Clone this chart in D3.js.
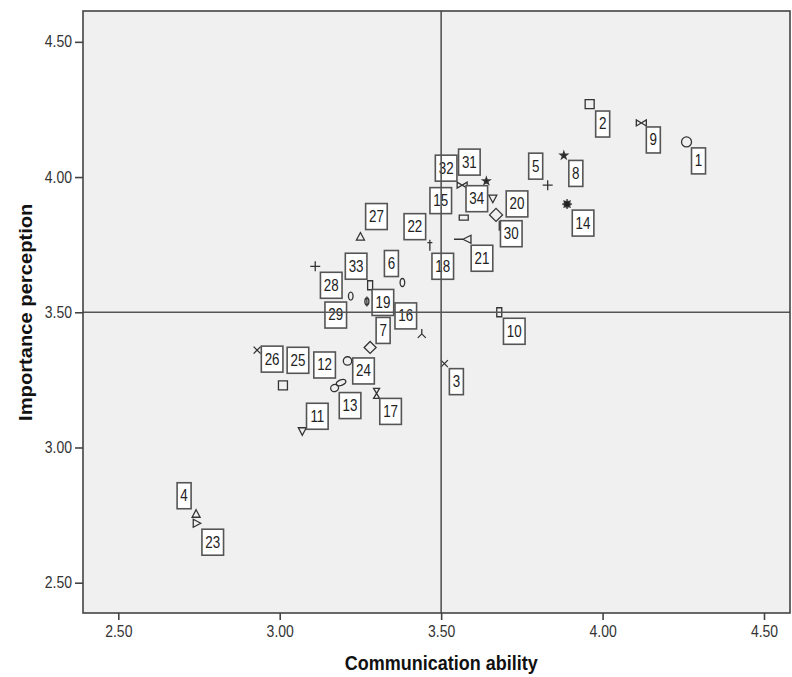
<!DOCTYPE html>
<html>
<head>
<meta charset="utf-8">
<script src="https://cdn.jsdelivr.net/npm/d3@7"></script>
<style>
  body { margin: 0; background: #fff; }
  text { font-family: "Liberation Sans", Arial, sans-serif; }
</style>
</head>
<body>
<div id="scatter"></div>
<script>
// case numbers and their scores
var caseIds = [1, 2, 3, 4, 5, 6, 7, 8, 9, 10, 11, 12, 13, 14, 15, 16, 17,
               18, 19, 20, 21, 22, 23, 24, 25, 26, 27, 28, 29, 30, 31, 32, 33, 34];

var commAbility = [4.26, 3.96, 3.51, 2.741, 3.83, 3.38, 3.28, 3.88, 4.12, 3.68,
                   3.07, 3.17, 3.19, 3.89, 3.57, 3.44, 3.30, 3.505, 3.27, 3.67,
                   3.58, 3.465, 2.743, 3.21, 3.01, 2.93, 3.25, 3.11, 3.22, 3.68,
                   3.64, 3.565, 3.28, 3.66];

var importance = [4.13, 4.27, 3.31, 2.755, 3.97, 3.61, 3.37, 4.08, 4.20, 3.50,
                  3.06, 3.22, 3.24, 3.90, 3.85, 3.42, 3.20, 3.67, 3.54, 3.86,
                  3.77, 3.75, 2.72, 3.32, 3.23, 3.36, 3.78, 3.67, 3.56, 3.82,
                  3.985, 3.97, 3.60, 3.92];

var xTicks = [2.5, 3.0, 3.5, 4.0, 4.5];
var yTicks = [2.5, 3.0, 3.5, 4.0, 4.5];
var refX = 3.5, refY = 3.5;

// marker shape per case (SPSS style)
var caseMarkers = ["circle", "square", "cross", "triUp", "plus", "zero", "diamond", "star",
                   "bowtie", "vRect", "triDown", "oval", "oval2", "sun", "hRect", "tristar",
                   "hourglass", "circle", "phi", "diamondL", "triLeftLine", "dagger", "triRight",
                   "circleS", "square", "cross", "triUp", "plus", "zero", "bar", "star",
                   "bowtie", "vRect", "triDown"];

// label box nudges (px) from each marker
var labelNudge = [[12,19],[13,20],[12,18],[-12,-18],[-12,-19],[-11,-19],[13,-17],[12,18],
                  [12,17],[15,19],[15,-15],[-10,-23],[9,23],[16,19],[-23,-17],[-16,-18],
                  [14,18],[0,0],[16,1],[21,-11],[15,19],[-15,-18],[16,19],[16,10],
                  [15,-25],[15,9],[16,-20],[16,19],[-15,19],[12,8],[-17,-19],[-16,-17],
                  [-14,-19],[-16,0]];

var svgWidth = 792;
var svgHeight = 677;

var svg = d3.select("#scatter")
  .append("svg")
    .attr("width", svgWidth)
    .attr("height", svgHeight);

var plot = { left: 83, right: 790, top: 11, bottom: 613 };

var x = d3.scaleLinear().domain([2.3907, 4.5805]).range([plot.left, plot.right]);
var y = d3.scaleLinear().domain([2.388, 4.614]).range([plot.bottom, plot.top]);

var data = caseIds.map((id, i) => ({
    id: id,
    cx: commAbility[i],
    cy: importance[i],
    marker: caseMarkers[i],
    nudge: labelNudge[i]
}));

// background
svg.append("rect")
    .attr("x", plot.left).attr("y", plot.top)
    .attr("width", plot.right - plot.left).attr("height", plot.bottom - plot.top)
    .attr("fill", "#f0f0f0");

// marker paths
var ell = (rx, ry) => `M${-rx},0a${rx},${ry} 0 1,0 ${2*rx},0a${rx},${ry} 0 1,0 ${-2*rx},0`;
var sunPath = (() => {
    var p = ell(3, 3);
    for (var k = 0; k < 8; k++) {
        var a = k * Math.PI / 4;
        p += `M${(3*Math.cos(a)).toFixed(2)},${(3*Math.sin(a)).toFixed(2)}L${(5*Math.cos(a)).toFixed(2)},${(5*Math.sin(a)).toFixed(2)}`;
    }
    return p;
})();
var shapes = {
    circle: { d: ell(5, 5) },
    circleS: { d: ell(4.2, 4.2) },
    square: { d: "M-4.5,-4.5h9v9h-9z" },
    cross: { d: "M-3.5,-3.5L3.5,3.5M-3.5,3.5L3.5,-3.5" },
    triUp: { d: "M0,-4L4,3.5H-4Z" },
    triDown: { d: "M0,4L4,-3.5H-4Z" },
    triRight: { d: "M4,0L-3.5,-4V4Z" },
    triLeftLine: { d: "M-4,0L4,-4V4ZM-4,0H-13" },
    plus: { d: "M-5,0H5M0,-5V5" },
    zero: { d: ell(2.3, 4) },
    diamond: { d: "M0,-6L6,0L0,6L-6,0Z" },
    diamondL: { d: "M0,-6.5L6.5,0L0,6.5L-6.5,0Z" },
    star: { d: d3.symbol(d3.symbolStar, 16)(), fill: true },
    sun: { d: sunPath, fill: true },
    bowtie: { d: "M-5,-3V3L5,-3V3Z" },
    vRect: { d: "M-2.5,-4.5h5v9h-5z" },
    hRect: { d: "M-4.5,-2.5h9v5h-9z" },
    bar: { d: "M0,-5V5" },
    dagger: { d: "M0,-5V6M-2.5,-2H2.5" },
    phi: { d: ell(2, 3.5) + "M0,-5V5" },
    tristar: { d: "M0,0V-5M0,0L-4,4M0,0L4,4" },
    hourglass: { d: "M-3,-5H3L-3,5H3Z" },
    oval: { d: ell(4, 3.5), rot: -20 },
    oval2: { d: ell(5, 2.8), rot: -25 }
};

// markers
svg.append("g").selectAll("path").data(data)
  .enter().append("path")
    .attr("transform", d => `translate(${x(d.cx)},${y(d.cy)}) rotate(${shapes[d.marker].rot || 0})`)
    .attr("d", d => shapes[d.marker].d)
    .attr("fill", d => shapes[d.marker].fill ? "#222" : "none")
    .attr("stroke", "#333")
    .attr("stroke-width", 1.3);

// label boxes
var labels = svg.append("g").selectAll("g").data(data)
  .enter().append("g")
    .attr("transform", d => `translate(${x(d.cx) + d.nudge[0]},${y(d.cy) + d.nudge[1]})`);

labels.append("rect")
    .attr("x", d => d.id < 10 ? -7 : -10.8)
    .attr("y", -13)
    .attr("width", d => d.id < 10 ? 14 : 21.6)
    .attr("height", 26)
    .attr("fill", "#fff")
    .attr("stroke", "#555")
    .attr("stroke-width", 1.6);

labels.append("text")
    .attr("transform", "scale(1,1.18)")
    .attr("y", 4.6)
    .attr("text-anchor", "middle")
    .attr("font-size", 13.4)
    .attr("fill", "#222")
    .text(d => d.id);

// reference lines
svg.append("line")
    .attr("x1", x(refX)).attr("x2", x(refX))
    .attr("y1", plot.top).attr("y2", plot.bottom)
    .attr("stroke", "#555").attr("stroke-width", 1.6);
svg.append("line")
    .attr("x1", plot.left).attr("x2", plot.right)
    .attr("y1", y(refY)).attr("y2", y(refY))
    .attr("stroke", "#555").attr("stroke-width", 1.6);

// frame
svg.append("rect")
    .attr("x", plot.left).attr("y", plot.top)
    .attr("width", plot.right - plot.left).attr("height", plot.bottom - plot.top)
    .attr("fill", "none")
    .attr("stroke", "#444")
    .attr("stroke-width", 1.6);

// axes
var fmt = d3.format(".2f");
var leftAxisG = svg.append("g")
    .attr("transform", `translate(${plot.left},0)`)
    .call(d3.axisLeft(y).tickValues(yTicks).tickFormat(fmt).tickSize(8).tickPadding(3));
var bottomAxisG = svg.append("g")
    .attr("transform", `translate(0,${plot.bottom})`)
    .call(d3.axisBottom(x).tickValues(xTicks).tickFormat(fmt).tickSize(7).tickPadding(5));

[leftAxisG, bottomAxisG].forEach(g => {
    g.select(".domain").remove();
    g.selectAll(".tick line").attr("stroke", "#444").attr("stroke-width", 1.6);
    g.selectAll(".tick text")
        .attr("fill", "#333")
        .attr("font-size", 14)
        .attr("font-family", "'Liberation Sans', Arial, sans-serif");
});
leftAxisG.selectAll(".tick text").attr("transform", "scale(1,1.13)").attr("y", 0).attr("dy", "0.32em");
bottomAxisG.selectAll(".tick text").attr("transform", "scale(1,1.13)").attr("y", 11);

// axis titles
svg.append("text")
    .attr("transform", `translate(${x(3.5)},670) scale(1,1.12)`)
    .attr("text-anchor", "middle")
    .attr("font-size", 18)
    .attr("font-weight", "bold")
    .attr("fill", "#111")
    .text("Communication ability");

svg.append("text")
    .attr("transform", `translate(32,${y(3.5)}) scale(1,1.12) rotate(-90)`)
    .attr("text-anchor", "middle")
    .attr("font-size", 18)
    .attr("font-weight", "bold")
    .attr("fill", "#111")
    .text("Importance perception");
</script>
</body>
</html>
